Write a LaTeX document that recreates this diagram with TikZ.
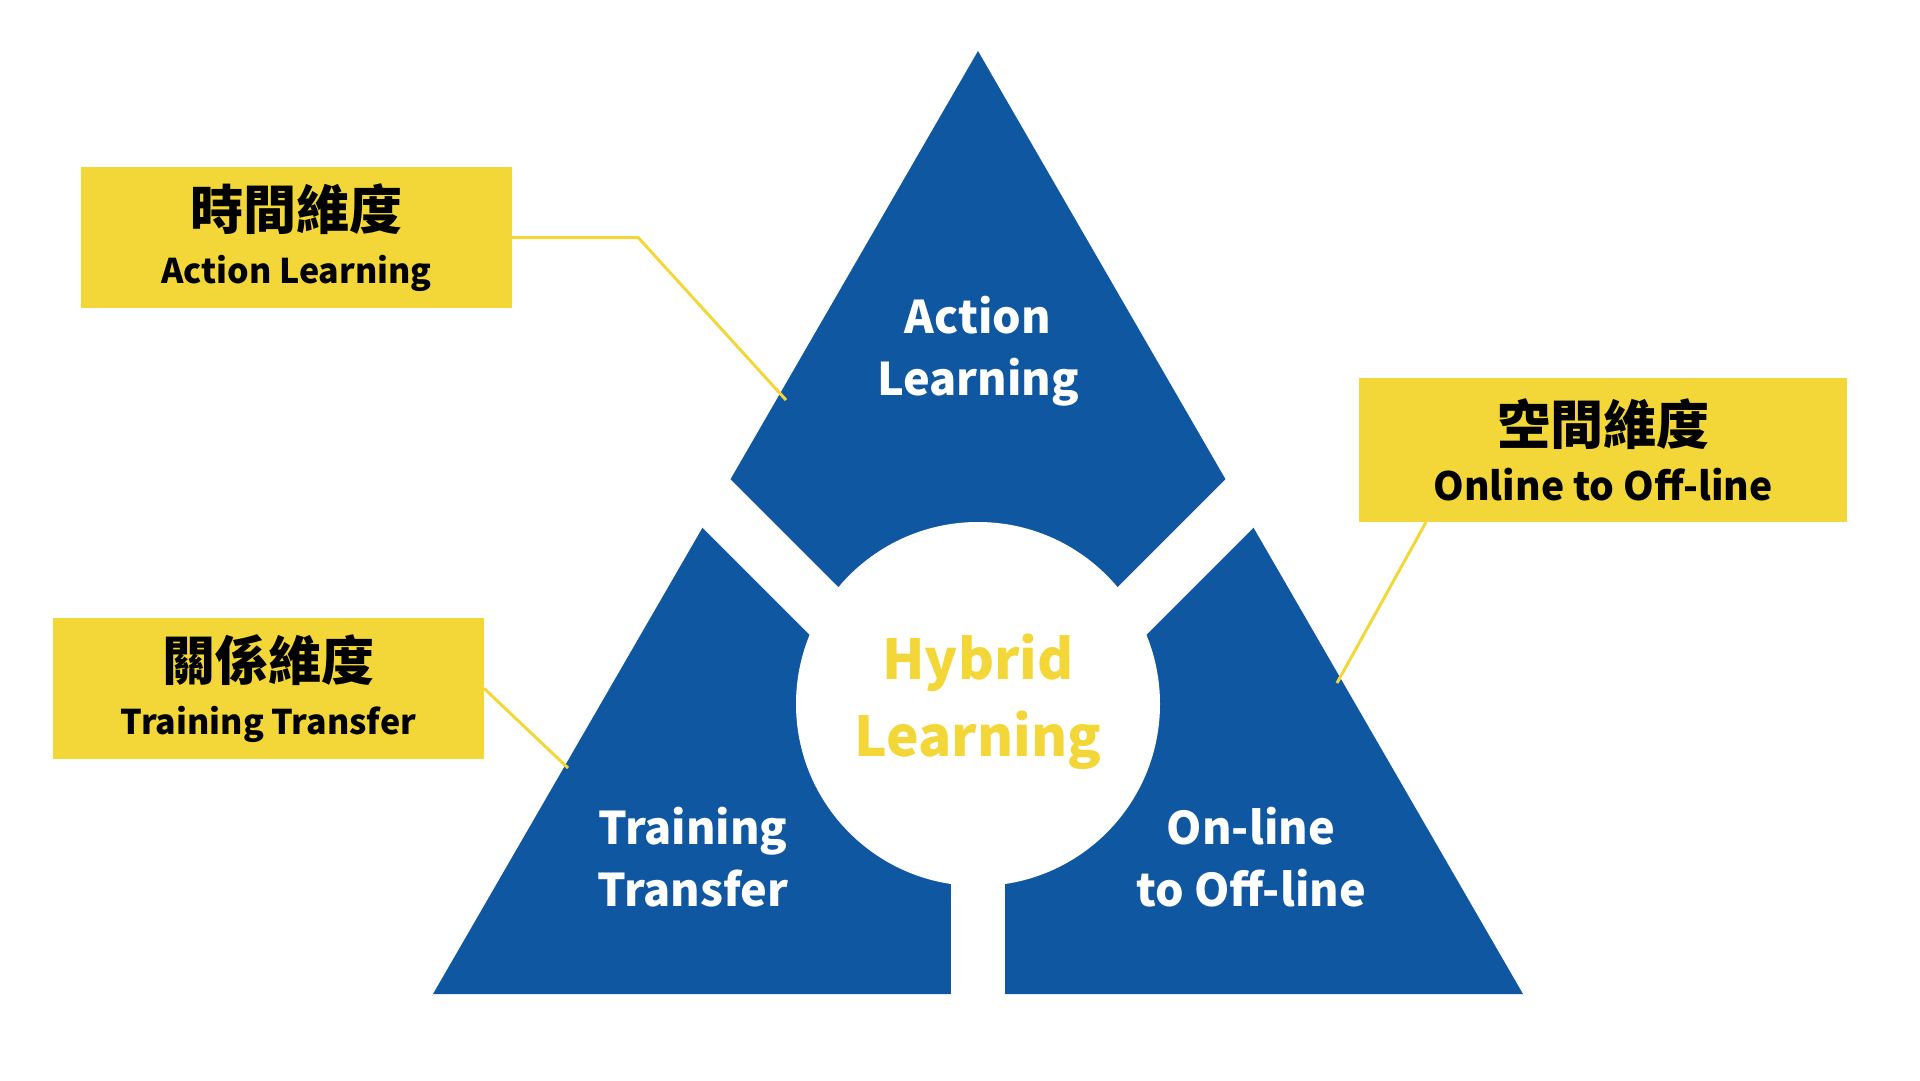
\documentclass[tikz,border=0pt]{standalone}
\usepackage{fontspec}
\setmainfont{Noto Sans CJK TC}
\usetikzlibrary{positioning}
\definecolor{triblue}{RGB}{15,87,161}
\definecolor{hlyellow}{RGB}{243,215,56}
\newcommand{\zhsize}{\fontsize{53}{53}\selectfont}
\newcommand{\ensize}{\fontsize{34}{34}\selectfont}
\newcommand{\enlarge}{\fontsize{39}{39}\selectfont}
\tikzset{
  dimbox/.style={fill=hlyellow,minimum height=141pt,inner sep=0pt,align=center,text=black,font=\bfseries},
  parttext/.style={text=white,align=center,font=\fontsize{45}{62}\selectfont\bfseries},
  hubtext/.style={text=hlyellow,align=center,font=\fontsize{55}{77}\selectfont\bfseries},
  gap/.style={draw=white,line width=54pt},
  link/.style={draw=hlyellow,line width=3pt}
}
\begin{document}
\begin{tikzpicture}[x=1pt,y=-1pt]
\useasboundingbox (0,0) rectangle (1920,1080);
% triangle cut into three parts
\fill[triblue] (978,51) -- (433,994) -- (1523,994) -- cycle;
\draw[gap] (978,765) -- (670,457);
\draw[gap] (978,765) -- (1286,457);
\draw[gap] (978,765) -- (978,996);
\fill[white] (978,704) circle (182);
\node[parttext] (act) at (978,351) {Action\\Learning};
\node[parttext] (trn) at (693,857) {Training\\Transfer};
\node[parttext] (o2o) at (1251,857) {On-line\\to Off-line};
\node[hubtext] (hyb) at (978,702) {Hybrid\\Learning};
% labels
\node[dimbox,minimum width=431pt] (tdim) at (296.5,237.5) {\zhsize 時間維度\\[20pt]\ensize Action Learning};
\node[dimbox,minimum width=431pt] (rdim) at (268.5,688.5) {\zhsize 關係維度\\[20pt]\ensize Training Transfer};
\node[dimbox,minimum width=488pt,minimum height=144pt] (sdim) at (1603,450) {\zhsize 空間維度\\[18pt]\enlarge Online to Off-line};
\coordinate (tend) at (786,400);
\coordinate (rend) at (568,768);
\coordinate (send) at (1337,683);
\draw[link] (tdim.east) -- ++(126,0) -- (tend);
\draw[link] (rdim.east) -- (rend);
\draw[link] (sdim.south) ++(-177,0) -- (send);
\end{tikzpicture}
\end{document}
